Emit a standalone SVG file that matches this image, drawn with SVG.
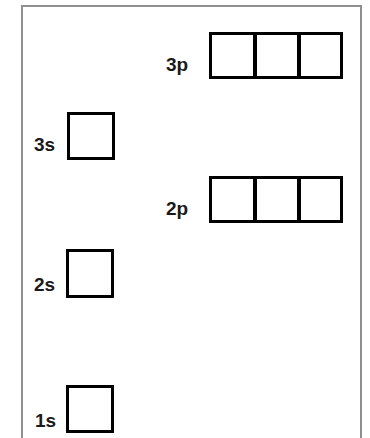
<svg xmlns="http://www.w3.org/2000/svg" width="370" height="438" viewBox="0 0 370 438">
  <style>
    .frame { fill: #ffffff; stroke: #8f8f8f; stroke-width: 2; }
    .orb { fill: #ffffff; stroke: #000000; stroke-width: 3; }
    .div { stroke: #000000; stroke-width: 4; }
    .lbl { font-family: "Liberation Sans", Arial, sans-serif; font-weight: bold; font-size: 19px; fill: #1a1a1a; }
  </style>
  <rect width="370" height="438" fill="#ffffff"/>
  <rect class="frame" x="22" y="6" width="339" height="440"/>

  <g id="orbital-3p">
    <text class="lbl" x="166" y="71">3p</text>
    <rect class="orb" x="210.5" y="33.5" width="131" height="44"/>
    <line class="div" x1="255" y1="33" x2="255" y2="78"/>
    <line class="div" x1="299" y1="33" x2="299" y2="78"/>
  </g>

  <g id="orbital-3s">
    <text class="lbl" x="34" y="151">3s</text>
    <rect class="orb" x="68.5" y="113.5" width="45" height="45"/>
  </g>

  <g id="orbital-2p">
    <text class="lbl" x="166" y="215">2p</text>
    <rect class="orb" x="210.5" y="177.5" width="131" height="44"/>
    <line class="div" x1="255" y1="177" x2="255" y2="222"/>
    <line class="div" x1="299" y1="177" x2="299" y2="222"/>
  </g>

  <g id="orbital-2s">
    <text class="lbl" x="34" y="291">2s</text>
    <rect class="orb" x="67.5" y="250.5" width="45" height="46"/>
  </g>

  <g id="orbital-1s">
    <text class="lbl" x="35" y="427">1s</text>
    <rect class="orb" x="67.5" y="386.5" width="45" height="45"/>
  </g>
</svg>
